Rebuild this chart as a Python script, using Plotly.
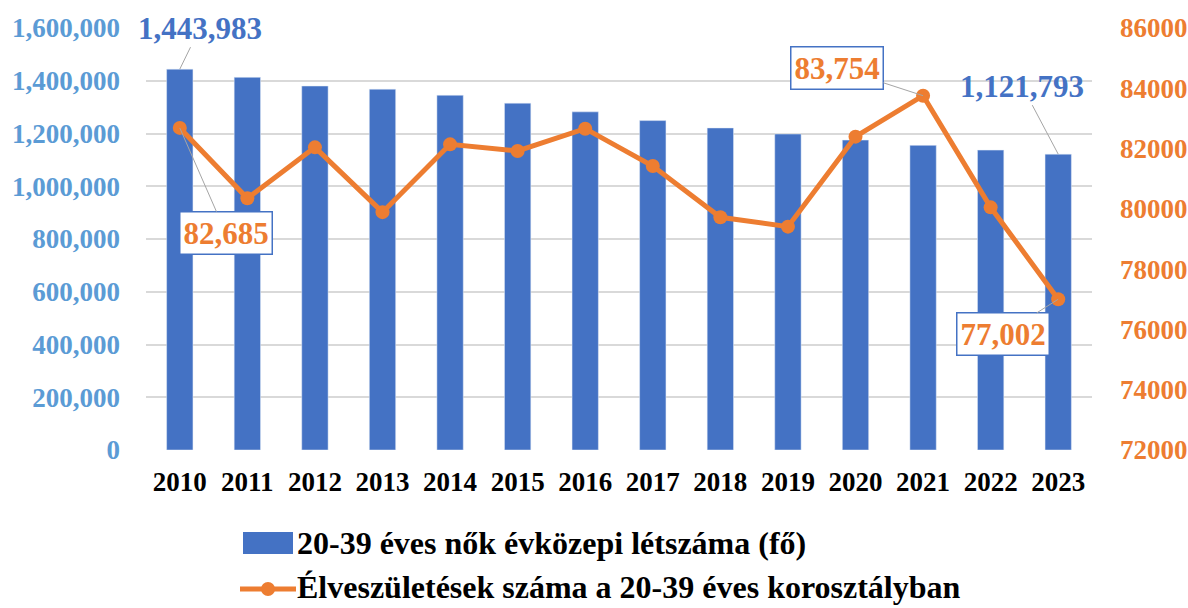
import plotly.graph_objects as go

years = [str(y) for y in range(2010, 2024)]
women = [1443983, 1413000, 1380000, 1368000, 1345000, 1315000, 1282000,
         1249000, 1221000, 1198000, 1175000, 1155000, 1137000, 1121793]
births = [82685, 80350, 82040, 79890, 82140, 81920, 82660,
          81420, 79720, 79410, 82395, 83754, 80050, 77002]

bar_name = "20-39 éves nők évközepi létszáma (fő)"
line_name = "Élveszületések száma a 20-39 éves korosztályban"

BLUE = "#4472C4"
ORANGE = "#ED7D31"
LBLUE = "#5B9BD5"
GRID = "#D9D9D9"
FONT = "Liberation Serif"

fig = go.Figure()
fig.add_trace(go.Bar(x=years, y=women, name=bar_name, marker_color=BLUE,
                     width=0.39, yaxis="y", showlegend=False))
fig.add_trace(go.Scatter(x=years, y=births, name=line_name, mode="lines+markers",
                         line=dict(color=ORANGE, width=5),
                         marker=dict(color=ORANGE, size=14),
                         yaxis="y2", showlegend=False))

def fmt(v):
    return f"{v:,}"

ann = []
lab_font = dict(family=FONT, size=31, weight="bold")
# bar labels
for idx, ax, ay in [(0, 20, -41), (13, -36, -68)]:
    ann.append(dict(x=idx, y=women[idx], xref="x", yref="y", text=fmt(women[idx]),
                    showarrow=True, arrowhead=0, arrowwidth=1, arrowcolor="#A5A5A5",
                    ax=ax, ay=ay, font=dict(color=BLUE, **lab_font)))
# line labels
for idx, ax, ay in [(0, 46, 105), (11, -86, -28), (13, -55, 35)]:
    ann.append(dict(x=idx, y=births[idx], xref="x", yref="y2", text=fmt(births[idx]),
                    showarrow=True, arrowhead=0, arrowwidth=1, arrowcolor="#A5A5A5",
                    ax=ax, ay=ay, bgcolor="white", bordercolor=BLUE, borderwidth=1.5,
                    borderpad=3, font=dict(color=ORANGE, **lab_font)))

# custom legend
L, R, T, B = 146, 1092, 28, 450
W, H = R - L, B - T
def px(x):
    return (x - L) / W
def py(y):
    return (B - y) / H

shapes = [
    dict(type="rect", xref="paper", yref="paper", x0=px(243), x1=px(293),
         y0=py(554), y1=py(532), fillcolor=BLUE, line=dict(width=0)),
    dict(type="line", xref="paper", yref="paper", x0=px(240), x1=px(296),
         y0=py(589), y1=py(589), line=dict(color=ORANGE, width=5)),
    dict(type="circle", xref="paper", yref="paper", x0=px(261), x1=px(275),
         y0=py(596), y1=py(582), fillcolor=ORANGE, line=dict(width=0)),
]
leg_font = dict(family=FONT, size=32, weight="bold", color="black")
ann.append(dict(x=px(295), y=py(543), xref="paper", yref="paper", text=bar_name,
                showarrow=False, xanchor="left", yanchor="middle", font=leg_font))
ann.append(dict(x=px(295), y=py(587), xref="paper", yref="paper", text=line_name,
                showarrow=False, xanchor="left", yanchor="middle", font=leg_font))

fig.update_layout(
    width=1188, height=608,
    margin=dict(l=L, r=1188 - R, t=T, b=608 - B),
    paper_bgcolor="white", plot_bgcolor="white",
    xaxis=dict(type="category", range=[-0.5, 13.5], showgrid=False, showline=False,
               ticks="", automargin=False,
               tickfont=dict(family=FONT, size=27, weight="bold", color="black"),
               ticklabelstandoff=13),
    yaxis=dict(range=[0, 1600000], dtick=200000, tickformat=",", showgrid=True,
               gridcolor=GRID, gridwidth=1.5, zeroline=False, showline=False,
               automargin=False,
               tickfont=dict(family=FONT, size=27, weight="bold", color=LBLUE),
               ticklabelstandoff=25),
    yaxis2=dict(range=[72000, 86000], dtick=2000, tickformat="d", overlaying="y",
                side="right", showgrid=False, zeroline=False, showline=False,
                automargin=False,
                tickfont=dict(family=FONT, size=27, weight="bold", color=ORANGE),
                ticklabelstandoff=27),
    annotations=ann, shapes=shapes,
)

fig.write_html("out.html", config={"displayModeBar": False},
               post_script="document.body.style.margin='0';document.body.style.overflow='hidden';")
